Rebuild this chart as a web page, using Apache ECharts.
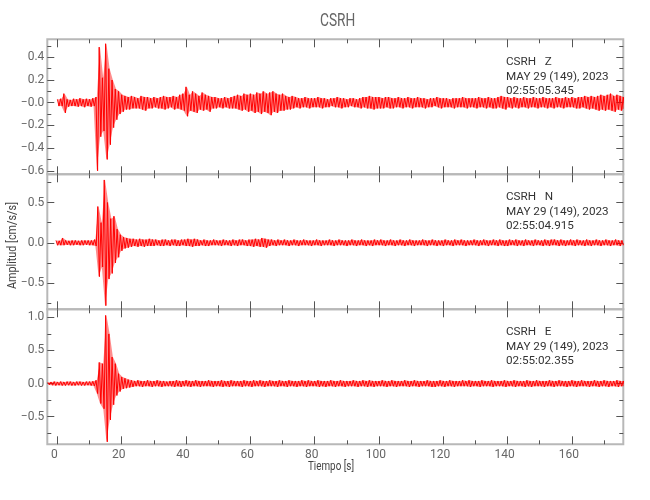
<!DOCTYPE html>
<html><head><meta charset="utf-8">
<script src="https://cdn.jsdelivr.net/npm/echarts@6/dist/echarts.min.js"></script>
<style>html,body{margin:0;padding:0;background:#fff}#c{width:650px;height:500px}</style>
</head><body><div id="c"></div>
<script>
const FONT = "Roboto,'Liberation Sans',sans-serif";
const titleText = 'CSRH';
const xName = 'Tiempo [s]';
const yName = 'Amplitud [cm/s/s]';
const xMin = -3.14, xMax = 176;
const xMajorTicks = [0, 20, 40, 60, 80, 100, 120, 140, 160];
const xTickLabels = ['0', '20', '40', '60', '80', '100', '120', '140', '160'];
const xMinorTicks = [10, 30, 50, 70, 90, 110, 130, 150, 170];

const stationZ = ['CSRH   Z', 'MAY 29 (149), 2023', '02:55:05.345'];
const stationN = ['CSRH   N', 'MAY 29 (149), 2023', '02:55:04.915'];
const stationE = ['CSRH   E', 'MAY 29 (149), 2023', '02:55:02.355'];

// trace start times (s) on the time axis; one (max, min) pair per second
const zStart = 0, nStart = -0.43, eStart = -2.99;

const zUpper = [0.03,0.035,0.08,0.03,0.025,0.035,0.03,0.04,0.03,0.035,
 0.03,0.04,0.05,0.49,0.22,0.52,0.3,0.2,0.12,0.1,
 0.07,0.06,0.05,0.06,0.05,0.04,0.06,0.05,0.05,0.04,
 0.05,0.04,0.05,0.06,0.05,0.05,0.06,0.05,0.07,0.08,
 0.14,0.07,0.1,0.08,0.06,0.09,0.07,0.06,0.05,0.05,
 0.04,0.04,0.05,0.04,0.05,0.06,0.07,0.06,0.08,0.07,
 0.08,0.07,0.09,0.08,0.1,0.08,0.09,0.1,0.08,0.07,
 0.08,0.06,0.05,0.06,0.05,0.04,0.04,0.05,0.04,0.04,
 0.04,0.05,0.04,0.04,0.03,0.04,0.04,0.05,0.04,0.04,
 0.03,0.04,0.04,0.03,0.04,0.05,0.05,0.06,0.05,0.05,
 0.05,0.04,0.05,0.05,0.04,0.04,0.05,0.04,0.04,0.05,
 0.04,0.04,0.05,0.04,0.04,0.03,0.04,0.04,0.05,0.04,
 0.04,0.04,0.03,0.04,0.04,0.04,0.05,0.04,0.04,0.04,
 0.04,0.05,0.04,0.04,0.05,0.04,0.04,0.05,0.06,0.05,
 0.05,0.04,0.05,0.04,0.04,0.05,0.04,0.04,0.05,0.04,
 0.04,0.05,0.04,0.04,0.04,0.05,0.04,0.04,0.05,0.04,
 0.05,0.04,0.05,0.05,0.06,0.05,0.06,0.05,0.06,0.07,
 0.06,0.07,0.08,0.06,0.07,0.06,0.05];
const zLower = [-0.03,-0.03,-0.09,-0.035,-0.03,-0.03,-0.035,-0.03,-0.04,-0.03,
 -0.035,-0.03,-0.6,-0.3,-0.25,-0.5,-0.37,-0.22,-0.15,-0.1,
 -0.08,-0.06,-0.06,-0.05,-0.05,-0.05,-0.06,-0.07,-0.05,-0.05,
 -0.04,-0.05,-0.05,-0.06,-0.05,-0.04,-0.06,-0.05,-0.06,-0.07,
 -0.12,-0.07,-0.08,-0.09,-0.06,-0.07,-0.06,-0.08,-0.05,-0.05,
 -0.04,-0.05,-0.04,-0.05,-0.05,-0.05,-0.06,-0.07,-0.06,-0.08,
 -0.07,-0.09,-0.08,-0.1,-0.08,-0.09,-0.11,-0.08,-0.09,-0.07,
 -0.07,-0.06,-0.06,-0.05,-0.04,-0.05,-0.04,-0.04,-0.05,-0.04,
 -0.04,-0.04,-0.05,-0.04,-0.04,-0.03,-0.04,-0.04,-0.05,-0.04,
 -0.04,-0.03,-0.04,-0.04,-0.05,-0.04,-0.05,-0.05,-0.06,-0.05,
 -0.05,-0.05,-0.04,-0.05,-0.05,-0.04,-0.04,-0.05,-0.04,-0.04,
 -0.05,-0.04,-0.04,-0.04,-0.05,-0.04,-0.04,-0.03,-0.04,-0.05,
 -0.04,-0.04,-0.04,-0.05,-0.04,-0.04,-0.04,-0.05,-0.04,-0.04,
 -0.05,-0.04,-0.04,-0.05,-0.04,-0.05,-0.05,-0.04,-0.05,-0.06,
 -0.04,-0.05,-0.04,-0.05,-0.04,-0.04,-0.05,-0.04,-0.04,-0.05,
 -0.04,-0.04,-0.05,-0.04,-0.05,-0.04,-0.04,-0.05,-0.04,-0.04,
 -0.04,-0.05,-0.05,-0.04,-0.05,-0.06,-0.05,-0.06,-0.07,-0.06,
 -0.07,-0.06,-0.07,-0.08,-0.06,-0.07,-0.05];

const nUpper = [0.03,0.025,0.06,0.03,0.025,0.03,0.03,0.025,0.03,0.03,
 0.03,0.03,0.04,0.45,0.25,0.78,0.5,0.3,0.33,0.17,
 0.1,0.07,0.06,0.05,0.05,0.04,0.05,0.04,0.04,0.05,
 0.04,0.04,0.03,0.04,0.04,0.03,0.04,0.04,0.03,0.04,
 0.04,0.05,0.04,0.05,0.04,0.03,0.04,0.03,0.03,0.04,
 0.03,0.03,0.04,0.03,0.03,0.04,0.03,0.04,0.04,0.03,
 0.04,0.04,0.05,0.04,0.06,0.05,0.04,0.04,0.03,0.04,
 0.03,0.04,0.03,0.03,0.04,0.03,0.03,0.04,0.03,0.03,
 0.03,0.04,0.03,0.03,0.03,0.04,0.03,0.03,0.04,0.03,
 0.03,0.03,0.04,0.03,0.03,0.04,0.03,0.03,0.03,0.04,
 0.03,0.04,0.03,0.03,0.04,0.03,0.03,0.04,0.03,0.03,
 0.04,0.03,0.03,0.03,0.04,0.03,0.03,0.04,0.03,0.03,
 0.03,0.04,0.03,0.03,0.04,0.03,0.04,0.03,0.03,0.03,
 0.04,0.03,0.03,0.04,0.03,0.03,0.04,0.03,0.04,0.03,
 0.03,0.04,0.03,0.04,0.03,0.03,0.04,0.03,0.03,0.04,
 0.03,0.03,0.04,0.03,0.04,0.04,0.03,0.04,0.03,0.03,
 0.04,0.03,0.04,0.03,0.03,0.04,0.03,0.03,0.04,0.03,
 0.03,0.04,0.03,0.03,0.04,0.03,0.03];
const nLower = [-0.03,-0.03,-0.03,-0.025,-0.03,-0.03,-0.025,-0.03,-0.03,-0.025,
 -0.03,-0.03,-0.04,-0.42,-0.3,-0.78,-0.45,-0.38,-0.25,-0.18,
 -0.1,-0.07,-0.06,-0.05,-0.04,-0.05,-0.04,-0.05,-0.04,-0.04,
 -0.04,-0.03,-0.04,-0.04,-0.03,-0.04,-0.03,-0.04,-0.04,-0.03,
 -0.04,-0.04,-0.05,-0.04,-0.04,-0.03,-0.04,-0.04,-0.03,-0.03,
 -0.03,-0.04,-0.03,-0.03,-0.04,-0.03,-0.04,-0.03,-0.03,-0.04,
 -0.04,-0.05,-0.04,-0.05,-0.05,-0.06,-0.04,-0.03,-0.04,-0.03,
 -0.03,-0.03,-0.04,-0.03,-0.03,-0.04,-0.03,-0.03,-0.03,-0.04,
 -0.03,-0.03,-0.04,-0.03,-0.03,-0.03,-0.04,-0.03,-0.03,-0.03,
 -0.04,-0.03,-0.03,-0.04,-0.03,-0.03,-0.04,-0.03,-0.04,-0.03,
 -0.03,-0.03,-0.04,-0.03,-0.03,-0.04,-0.03,-0.03,-0.04,-0.03,
 -0.03,-0.04,-0.03,-0.03,-0.03,-0.04,-0.03,-0.03,-0.04,-0.03,
 -0.04,-0.03,-0.03,-0.04,-0.03,-0.03,-0.03,-0.04,-0.03,-0.03,
 -0.03,-0.04,-0.03,-0.03,-0.04,-0.03,-0.03,-0.04,-0.03,-0.04,
 -0.04,-0.03,-0.03,-0.04,-0.03,-0.04,-0.03,-0.03,-0.04,-0.03,
 -0.03,-0.04,-0.03,-0.04,-0.03,-0.03,-0.04,-0.03,-0.04,-0.03,
 -0.03,-0.04,-0.03,-0.03,-0.04,-0.03,-0.04,-0.03,-0.03,-0.04,
 -0.03,-0.03,-0.04,-0.03,-0.03,-0.04,-0.03];

const eUpper = [0.02,0.025,0.03,0.025,0.03,0.025,0.03,0.03,0.025,0.03,
 0.03,0.025,0.03,0.03,0.035,0.05,0.32,0.3,1.03,0.75,
 0.4,0.3,0.15,0.1,0.08,0.06,0.05,0.04,0.05,0.04,
 0.04,0.05,0.04,0.04,0.05,0.04,0.04,0.03,0.04,0.04,
 0.05,0.04,0.04,0.05,0.04,0.04,0.05,0.04,0.04,0.04,
 0.05,0.04,0.04,0.04,0.05,0.04,0.04,0.05,0.04,0.04,
 0.04,0.05,0.04,0.04,0.05,0.04,0.05,0.04,0.04,0.05,
 0.04,0.04,0.05,0.04,0.04,0.05,0.04,0.04,0.04,0.05,
 0.04,0.05,0.04,0.04,0.05,0.04,0.04,0.04,0.05,0.04,
 0.04,0.05,0.04,0.04,0.04,0.05,0.04,0.04,0.05,0.04,
 0.05,0.04,0.04,0.04,0.05,0.04,0.04,0.05,0.04,0.04,
 0.04,0.05,0.04,0.04,0.05,0.04,0.04,0.04,0.05,0.04,
 0.04,0.04,0.05,0.04,0.04,0.05,0.04,0.04,0.04,0.05,
 0.04,0.05,0.04,0.04,0.04,0.05,0.04,0.04,0.05,0.04,
 0.04,0.04,0.05,0.04,0.04,0.05,0.04,0.04,0.04,0.05,
 0.04,0.04,0.05,0.04,0.04,0.04,0.05,0.04,0.04,0.05,
 0.04,0.04,0.04,0.05,0.04,0.04,0.05,0.04,0.04,0.04,
 0.05,0.04,0.04,0.05,0.04,0.04,0.04,0.05,0.04,0.04];
const eLower = [-0.02,-0.025,-0.03,-0.025,-0.03,-0.03,-0.025,-0.03,-0.03,-0.025,
 -0.03,-0.03,-0.025,-0.03,-0.035,-0.15,-0.3,-0.38,-0.88,-0.55,
 -0.32,-0.18,-0.12,-0.08,-0.07,-0.06,-0.05,-0.04,-0.04,-0.05,
 -0.04,-0.04,-0.05,-0.04,-0.04,-0.05,-0.04,-0.04,-0.04,-0.05,
 -0.04,-0.05,-0.04,-0.04,-0.05,-0.04,-0.04,-0.05,-0.04,-0.04,
 -0.04,-0.05,-0.04,-0.04,-0.05,-0.04,-0.05,-0.04,-0.04,-0.04,
 -0.05,-0.04,-0.04,-0.05,-0.04,-0.04,-0.04,-0.05,-0.04,-0.04,
 -0.04,-0.05,-0.04,-0.04,-0.05,-0.04,-0.04,-0.05,-0.04,-0.04,
 -0.05,-0.04,-0.04,-0.04,-0.05,-0.04,-0.05,-0.04,-0.04,-0.05,
 -0.04,-0.04,-0.05,-0.04,-0.04,-0.04,-0.05,-0.04,-0.04,-0.05,
 -0.04,-0.05,-0.04,-0.04,-0.04,-0.05,-0.04,-0.04,-0.05,-0.04,
 -0.04,-0.04,-0.05,-0.04,-0.04,-0.05,-0.04,-0.04,-0.04,-0.05,
 -0.05,-0.04,-0.04,-0.05,-0.04,-0.04,-0.05,-0.04,-0.04,-0.04,
 -0.04,-0.05,-0.04,-0.04,-0.05,-0.04,-0.04,-0.04,-0.05,-0.04,
 -0.04,-0.04,-0.05,-0.04,-0.04,-0.05,-0.04,-0.04,-0.05,-0.04,
 -0.05,-0.04,-0.04,-0.04,-0.05,-0.04,-0.04,-0.05,-0.04,-0.04,
 -0.04,-0.05,-0.04,-0.04,-0.05,-0.04,-0.04,-0.04,-0.05,-0.04,
 -0.04,-0.05,-0.04,-0.04,-0.05,-0.04,-0.04,-0.05,-0.04,-0.04];

const zRange = [-0.631, 0.559];
const zMajor = [-0.6, -0.4, -0.2, 0, 0.2, 0.4];
const zMajorLabels = ['\u22120.6', '\u22120.4', '\u22120.2', '\u22120.0', '0.2', '0.4'];
const zMinor = [-0.5, -0.3, -0.1, 0.1, 0.3, 0.5];
const nRange = [-0.825, 0.85];
const nMajor = [-0.5, 0, 0.5];
const nMajorLabels = ['\u22120.5', '0.0', '0.5'];
const nMinor = [-0.75, -0.25, 0.25, 0.75];
const eRange = [-0.917, 1.122];
const eMajor = [-0.5, 0, 0.5, 1.0];
const eMajorLabels = ['\u22120.5', '0.0', '0.5', '1.0'];
const eMinor = [-0.75, -0.25, 0.25, 0.75];

function trace(start, upper, lower) {
  const d = [];
  for (let i = 0; i < upper.length; i++) {
    d.push([start + i, upper[i]]);
    d.push([start + i + 0.5, lower[i]]);
  }
  return d;
}
function labelMap(vals, labels) {
  const m = {};
  vals.forEach((v, i) => { m[v.toFixed(3)] = labels[i]; });
  return v => m[Number(v).toFixed(3)] ?? '';
}

const panels = [
  { start: zStart, up: zUpper, lo: zLower, range: zRange, major: zMajor, labels: zMajorLabels, minor: zMinor, info: stationZ },
  { start: nStart, up: nUpper, lo: nLower, range: nRange, major: nMajor, labels: nMajorLabels, minor: nMinor, info: stationN },
  { start: eStart, up: eUpper, lo: eLower, range: eRange, major: eMajor, labels: eMajorLabels, minor: eMinor, info: stationE }
];

const GL = 47.3, GW = 576, GT = 39.3, GH = 135;
const tickColor = '#555', labelColor = '#666';
const grids = [], xAxes = [], yAxes = [], series = [];
const graphics = [
  { type: 'text', x: 320, y: 12, scaleX: 0.76, style: { text: titleText, font: '18px ' + FONT, fill: '#666' } },
  { type: 'text', x: 308, y: 461, scaleX: 0.82, style: { text: xName, font: '12px ' + FONT, fill: '#444' } },
  { type: 'text', x: 7, y: 289, rotation: Math.PI / 2, scaleX: 0.9, style: { text: yName, font: '12px ' + FONT, fill: '#444' } }
];
const xFmt = labelMap(xMajorTicks, xTickLabels);

panels.forEach((p, k) => {
  grids.push({ left: GL, top: GT + GH * k, width: GW, height: GH, show: true,
    borderColor: '#b8b8b8', borderWidth: 2, backgroundColor: 'transparent' });
  const xBase = { type: 'value', gridIndex: k, min: xMin, max: xMax,
    axisLine: { show: false, onZero: false }, splitLine: { show: false } };
  const xi = xAxes.length;
  [['bottom', xMajorTicks, 8, k === 2], ['bottom', xMinorTicks, 4, false],
   ['top', xMajorTicks, 8, false], ['top', xMinorTicks, 4, false]].forEach(([pos, vals, len, lab]) => {
    xAxes.push(Object.assign({}, xBase, {
      position: pos,
      axisTick: { show: true, inside: true, length: len, customValues: vals, lineStyle: { color: tickColor, width: 1 } },
      axisLabel: lab ? { show: true, customValues: xMajorTicks, formatter: xFmt, margin: 5,
        padding: [0, 6, 0, 0], fontFamily: FONT, fontSize: 12, color: labelColor } : { show: false }
    }));
  });
  const yBase = { type: 'value', gridIndex: k, min: p.range[0], max: p.range[1],
    axisLine: { show: false, onZero: false }, splitLine: { show: false } };
  const yi = yAxes.length;
  const yFmt = labelMap(p.major, p.labels);
  [['left', p.major, 7, true], ['left', p.minor, 4, false],
   ['right', p.major, 7, false], ['right', p.minor, 4, false]].forEach(([pos, vals, len, lab]) => {
    yAxes.push(Object.assign({}, yBase, {
      position: pos,
      axisTick: { show: true, inside: true, length: len, customValues: vals, lineStyle: { color: tickColor, width: 1 } },
      axisLabel: lab ? { show: true, customValues: p.major, formatter: yFmt, margin: 3,
        fontFamily: FONT, fontSize: 12, color: labelColor } : { show: false }
    }));
  });
  // dense noise band between the per-second max and min envelopes
  series.push({ type: 'custom', xAxisIndex: xi, yAxisIndex: yi, silent: true, clip: true,
    data: [[p.start, 0]],
    renderItem: (params, api) => {
      const pts = [];
      p.up.forEach((v, i) => pts.push(api.coord([p.start + i + 0.25, v])));
      for (let i = p.lo.length - 1; i >= 0; i--) pts.push(api.coord([p.start + i + 0.25, p.lo[i]]));
      return { type: 'polygon', shape: { points: pts }, style: { fill: 'rgba(255,0,0,0.45)' } };
    } });
  series.push({ type: 'line', xAxisIndex: xi, yAxisIndex: yi, data: trace(p.start, p.up, p.lo),
    showSymbol: false, symbol: 'none', clip: true,
    lineStyle: { color: '#ff0000', width: 1 } });
  graphics.push({ type: 'text', x: 506, y: GT + GH * k + 16,
    style: { text: p.info.join('\n'), font: '11.7px ' + FONT, fill: '#333', lineHeight: 14.3 } });
});

const chart = echarts.init(document.getElementById('c'), null, { renderer: 'canvas' });
chart.setOption({
  animation: false, backgroundColor: '#fff',
  grid: grids, xAxis: xAxes, yAxis: yAxes, series: series, graphic: graphics
});
</script></body></html>
